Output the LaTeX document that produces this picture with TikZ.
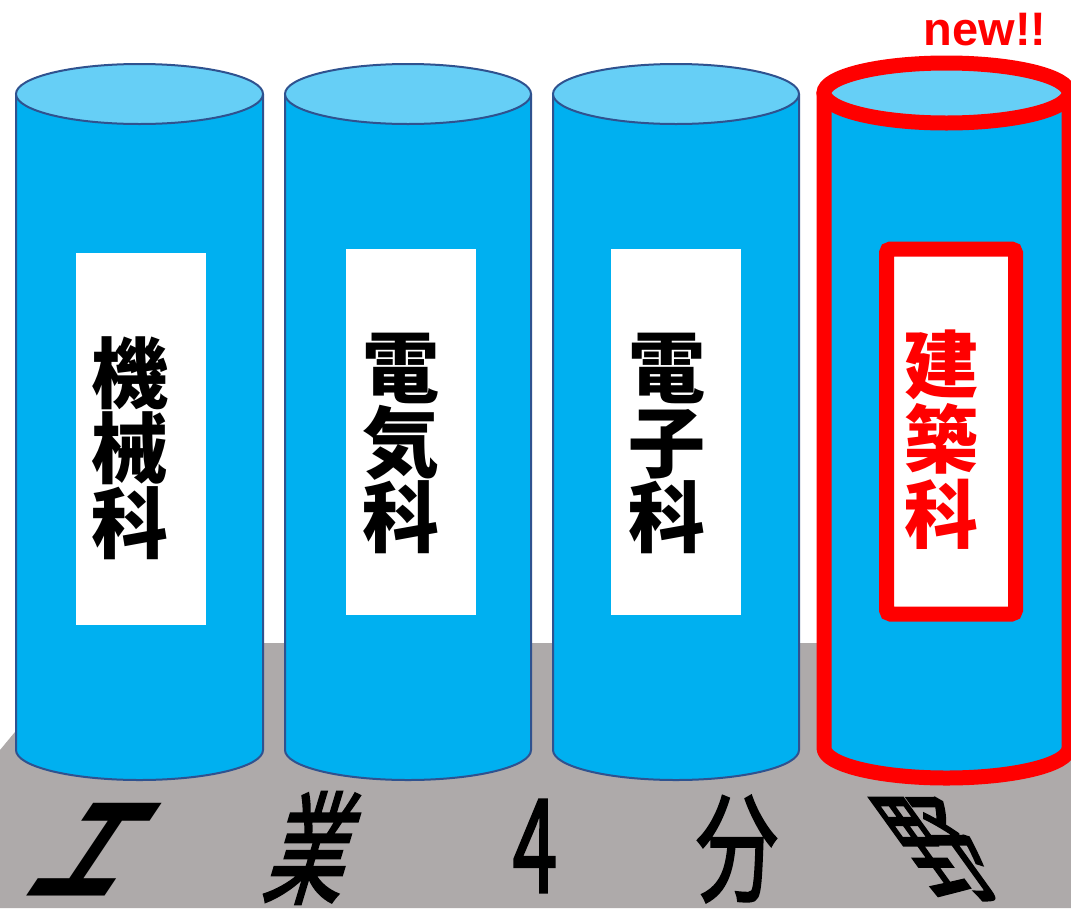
\documentclass[tikz,border=0pt]{standalone}
\usepackage{fontspec}
\newfontfamily\jp{Noto Sans CJK JP}
\newfontfamily\jpmid{Noto Sans CJK JP}[FakeBold=2]
\newfontfamily\lat{Liberation Sans}
\definecolor{cylblue}{HTML}{00B0F0}
\definecolor{lidblue}{HTML}{66CFF6}
\definecolor{edgeblue}{HTML}{2F528F}
\definecolor{floorgray}{HTML}{AEAAAA}
\definecolor{newred}{HTML}{FF0000}
\tikzset{
  body/.style={fill=cylblue, draw=edgeblue, line width=2pt, line join=round},
  lid/.style={fill=lidblue, draw=edgeblue, line width=2pt},
  redbody/.style={fill=cylblue, draw=newred, line width=15pt, line join=round},
  redlid/.style={fill=lidblue, draw=newred, line width=15pt},
  tagbox/.style={fill=white, draw=none, inner sep=0pt},
  redtag/.style={fill=white, draw=newred, line width=15pt, rounded corners=4pt, inner sep=0pt},
  kanji/.style={font=\jp\bfseries\fontsize{77}{75}\selectfont, align=center, inner sep=0pt},
  bigglyph/.style={font=\jpmid\fontsize{118}{118}\selectfont, inner sep=0pt, transform shape},
}
% a drum: left x, right x, lid centre y, bottom centre y, y radius, body style, lid style
\newcommand{\drum}[7]{%
  \pgfmathsetmacro{\drumcx}{(#1+#2)/2}%
  \pgfmathsetmacro{\drumrx}{(#2-#1)/2}%
  \path[#6] (#1,#3) -- (#1,#4)
    arc[start angle=180, end angle=360, x radius=\drumrx pt, y radius=#5 pt]
    -- (#2,#3) -- cycle;
  \path[#7] (\drumcx,#3) ellipse[x radius=\drumrx pt, y radius=#5 pt];
}
\begin{document}
\begin{tikzpicture}[x=1pt, y=-1pt]
  \useasboundingbox (0,0) rectangle (1071,908);
  \fill[white] (0,0) rectangle (1071,908);

  % floor
  \fill[floorgray] (0,750) -- (89,643) -- (1071,643) -- (1071,908) -- (0,908) -- cycle;

  % drums
  \drum{16}{263}{94}{750}{30}{body}{lid}
  \drum{285}{531}{94}{750}{30}{body}{lid}
  \drum{553}{799}{94}{750}{30}{body}{lid}
  \begin{scope}
    \clip (0,0) rectangle (1071,908);
    \drum{824}{1069}{93}{748}{30}{redbody}{redlid}
  \end{scope}

  % name plates
  \node[tagbox, minimum width=130pt, minimum height=372pt] (plate1) at (141,439) {};
  \node[tagbox, minimum width=130pt, minimum height=366pt] (plate2) at (411,432) {};
  \node[tagbox, minimum width=130pt, minimum height=366pt] (plate3) at (676,432) {};
  \node[redtag, minimum width=129pt, minimum height=365pt] (plate4) at (951,431.5) {};

  \node[kanji] (dept1) at (130,448) {機\\械\\科};
  \node[kanji] (dept2) at (401,443) {電\\気\\科};
  \node[kanji] (dept3) at (667,443) {電\\子\\科};
  \node[kanji, text=newred, font=\jp\bfseries\fontsize{74}{75}\selectfont] (dept4) at (941,440) {建\\築\\科};

  \node[font=\lat\bfseries\fontsize{47}{47}\selectfont, text=newred, inner sep=0pt, anchor=base] (newmark) at (985,45) {new!!};

  % slogan along the floor
  \begin{scope}[shift={(97,850)}]
    \node[bigglyph, font=\jp\bfseries\fontsize{118}{118}\selectfont, xslant=0.67, xscale=0.72] (w1) at (0,0) {工};
  \end{scope}
  \begin{scope}[shift={(315,848)}]
    \node[bigglyph, font=\jpmid\fontsize{122}{122}\selectfont, xslant=0.3, xscale=0.66] (w2) at (0,0) {業};
  \end{scope}
  \begin{scope}[shift={(535,846)}]
    \node[bigglyph, font=\jpmid\fontsize{130}{130}\selectfont, xscale=0.62] (w3) at (0,0) {4};
  \end{scope}
  \begin{scope}[shift={(737,849)}]
    \node[bigglyph, xscale=0.7] (w4) at (0,0) {分};
  \end{scope}
  \begin{scope}[shift={(940,849)}]
    \node[bigglyph, xslant=-0.72, xscale=0.68] (w5) at (0,0) {野};
  \end{scope}
\end{tikzpicture}
\end{document}
